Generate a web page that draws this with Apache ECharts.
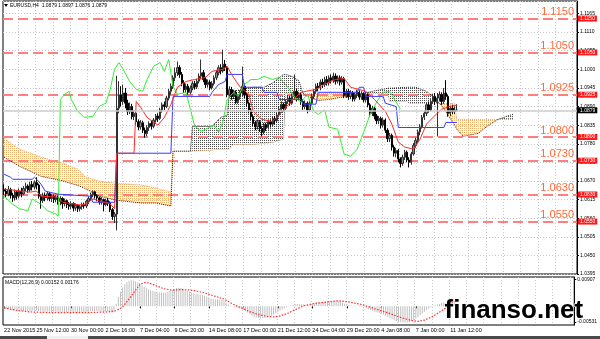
<!DOCTYPE html>
<html><head><meta charset="utf-8">
<script src="https://cdn.jsdelivr.net/npm/echarts@6/dist/echarts.min.js"></script>
<style>html,body{margin:0;padding:0;background:#fff}#c{width:600px;height:339px}</style>
</head><body><div id="c"></div>
<script>
const chartTitle = 'EURUSD,H4  1.0879 1.0897 1.0876 1.0879';
const macdTitle = 'MACD(12,26,9) 0.00152 0.00176';
const watermark = 'finanso.net';
const barCount = 265;
const timeLabelIdx = [0,15,31,47,63,79,95,111,127,143,159,175,191,207];
const timeLabels = ['22 Nov 2015','25 Nov 12:00','30 Nov 00:00','2 Dec 16:00','7 Dec 04:00','9 Dec 20:00','14 Dec 08:00','17 Dec 00:00','21 Dec 12:00','24 Dec 04:00','29 Dec 20:00','4 Jan 08:00','7 Jan 00:00','11 Jan 12:00'];
const levels = [1.1150,1.1050,1.0925,1.0800,1.0730,1.0630,1.0550];
const lastPrice = 1.0879;
const priceMin = 1.0395, priceMax = 1.1202, priceStep = 0.0055;
const macdMin = -0.00634, macdMax = 0.00998;
const macdLabels = [0.00907, 0, -0.00531];

// [open, close, low, high]
const candles = [
[1.0645,1.0640,1.0628,1.0660],[1.0640,1.0632,1.0622,1.0648],[1.0632,1.0645,1.0625,1.0655],[1.0645,1.0628,1.0618,1.0650],
[1.0628,1.0620,1.0608,1.0635],[1.0620,1.0638,1.0612,1.0645],[1.0638,1.0625,1.0615,1.0642],[1.0625,1.0640,1.0618,1.0648],
[1.0640,1.0632,1.0622,1.0650],[1.0632,1.0648,1.0628,1.0655],[1.0648,1.0655,1.0640,1.0665],[1.0655,1.0643,1.0635,1.0660],
[1.0643,1.0660,1.0638,1.0668],[1.0660,1.0652,1.0642,1.0670],[1.0652,1.0665,1.0645,1.0672],[1.0665,1.0658,1.0645,1.0681],
[1.0658,1.0625,1.0618,1.0662],[1.0625,1.0612,1.0588,1.0630],[1.0612,1.0628,1.0605,1.0635],[1.0628,1.0620,1.0610,1.0636],
[1.0620,1.0632,1.0612,1.0638],[1.0632,1.0618,1.0610,1.0637],[1.0618,1.0625,1.0608,1.0632],[1.0625,1.0615,1.0605,1.0630],
[1.0615,1.0622,1.0607,1.0628],[1.0622,1.0610,1.0600,1.0627],[1.0610,1.0618,1.0598,1.0625],[1.0618,1.0603,1.0588,1.0622],
[1.0603,1.0612,1.0595,1.0618],[1.0612,1.0600,1.0590,1.0615],[1.0600,1.0595,1.0585,1.0608],[1.0595,1.0603,1.0586,1.0610],
[1.0603,1.0590,1.0580,1.0607],[1.0590,1.0598,1.0582,1.0604],[1.0598,1.0588,1.0578,1.0602],[1.0588,1.0594,1.0580,1.0600],
[1.0594,1.0600,1.0585,1.0606],[1.0600,1.0596,1.0588,1.0606],[1.0596,1.0610,1.0590,1.0615],[1.0610,1.0618,1.0602,1.0624],
[1.0618,1.0630,1.0612,1.0636],[1.0630,1.0638,1.0622,1.0642],[1.0638,1.0626,1.0618,1.0641],[1.0626,1.0620,1.0610,1.0630],
[1.0620,1.0608,1.0600,1.0624],[1.0608,1.0615,1.0600,1.0622],[1.0615,1.0600,1.0580,1.0618],[1.0600,1.0612,1.0595,1.0618],
[1.0612,1.0605,1.0596,1.0620],[1.0605,1.0585,1.0578,1.0610],[1.0585,1.0565,1.0555,1.0590],[1.0565,1.0572,1.0546,1.0578],
[1.0572,1.0885,1.0524,1.0981],[1.0885,1.0925,1.0870,1.0965],[1.0925,1.0905,1.0890,1.0950],[1.0905,1.0930,1.0895,1.0955],
[1.0930,1.0900,1.0885,1.0945],[1.0900,1.0875,1.0865,1.0910],[1.0875,1.0890,1.0868,1.0902],[1.0890,1.0860,1.0852,1.0898],
[1.0860,1.0870,1.0850,1.0880],[1.0870,1.0845,1.0835,1.0878],[1.0845,1.0830,1.0820,1.0852],[1.0830,1.0842,1.0822,1.0850],
[1.0842,1.0820,1.0812,1.0848],[1.0820,1.0810,1.0798,1.0828],[1.0810,1.0828,1.0803,1.0835],[1.0828,1.0840,1.0818,1.0846],
[1.0840,1.0832,1.0822,1.0848],[1.0832,1.0850,1.0826,1.0856],[1.0850,1.0862,1.0842,1.0868],[1.0862,1.0855,1.0845,1.0870],
[1.0855,1.0880,1.0850,1.0886],[1.0880,1.0895,1.0872,1.0902],[1.0895,1.0890,1.0880,1.0905],[1.0890,1.0915,1.0885,1.0922],
[1.0915,1.0935,1.0908,1.0942],[1.0935,1.0950,1.0925,1.0958],[1.0950,1.0975,1.0942,1.0982],[1.0975,1.0990,1.0965,1.1005],
[1.0990,1.1005,1.0980,1.1023],[1.1005,1.0985,1.0975,1.1012],[1.0985,1.0960,1.0950,1.0992],[1.0960,1.0940,1.0930,1.0968],
[1.0940,1.0950,1.0930,1.0958],[1.0950,1.0932,1.0925,1.0957],[1.0932,1.0945,1.0926,1.0952],[1.0945,1.0958,1.0938,1.0965],
[1.0958,1.0948,1.0940,1.0966],[1.0948,1.0965,1.0942,1.0972],[1.0965,1.0980,1.0958,1.0988],[1.0980,1.0990,1.0970,1.1029],
[1.0990,1.0970,1.0962,1.0998],[1.0970,1.0955,1.0945,1.0978],[1.0955,1.0962,1.0946,1.0970],[1.0962,1.0945,1.0938,1.0968],
[1.0945,1.0958,1.0940,1.0965],[1.0958,1.0975,1.0952,1.0982],[1.0975,1.0990,1.0968,1.0998],[1.0990,1.1005,1.0982,1.1012],
[1.1005,1.0995,1.0985,1.1015],[1.0995,1.1015,1.0990,1.1058],[1.1015,1.1005,1.0995,1.1028],[1.1005,1.0925,1.0918,1.1010],
[1.0925,1.0940,1.0915,1.0950],[1.0940,1.0920,1.0910,1.0948],[1.0920,1.0932,1.0912,1.0940],[1.0932,1.0905,1.0898,1.0938],
[1.0905,1.0918,1.0898,1.0925],[1.0918,1.0930,1.0910,1.0938],[1.0930,1.0950,1.0920,1.1008],[1.0950,1.0925,1.0915,1.0958],
[1.0925,1.0900,1.0890,1.0932],[1.0900,1.0880,1.0870,1.0905],[1.0880,1.0860,1.0850,1.0886],[1.0860,1.0840,1.0832,1.0866],
[1.0840,1.0830,1.0820,1.0848],[1.0830,1.0845,1.0822,1.0852],[1.0845,1.0825,1.0815,1.0850],[1.0825,1.0815,1.0802,1.0832],
[1.0815,1.0835,1.0808,1.0842],[1.0835,1.0828,1.0818,1.0842],[1.0828,1.0845,1.0822,1.0852],[1.0845,1.0838,1.0828,1.0852],
[1.0838,1.0855,1.0832,1.0862],[1.0855,1.0848,1.0838,1.0862],[1.0848,1.0865,1.0842,1.0872],[1.0865,1.0882,1.0858,1.0890],
[1.0882,1.0895,1.0875,1.0905],[1.0895,1.0885,1.0875,1.0902],[1.0885,1.0905,1.0880,1.0912],[1.0905,1.0915,1.0898,1.0925],
[1.0915,1.0900,1.0892,1.0922],[1.0900,1.0920,1.0895,1.0928],[1.0920,1.0935,1.0912,1.0985],[1.0935,1.0915,1.0905,1.0942],
[1.0915,1.0925,1.0908,1.0932],[1.0925,1.0905,1.0895,1.0930],[1.0905,1.0890,1.0880,1.0912],[1.0890,1.0900,1.0882,1.0908],
[1.0900,1.0880,1.0870,1.0905],[1.0880,1.0900,1.0875,1.0908],[1.0900,1.0920,1.0895,1.0928],[1.0920,1.0935,1.0912,1.0942],
[1.0935,1.0950,1.0928,1.0958],[1.0950,1.0945,1.0935,1.0960],[1.0945,1.0962,1.0938,1.0970],[1.0962,1.0955,1.0945,1.0972],
[1.0955,1.0970,1.0948,1.0978],[1.0970,1.0960,1.0952,1.0980],[1.0960,1.0975,1.0952,1.0982],[1.0975,1.0968,1.0958,1.0985],
[1.0968,1.0980,1.0960,1.0990],[1.0980,1.0965,1.0955,1.0988],[1.0965,1.0975,1.0958,1.0982],[1.0975,1.0962,1.0952,1.0982],
[1.0962,1.0972,1.0955,1.0980],[1.0972,1.0922,1.0915,1.0978],[1.0922,1.0935,1.0915,1.0942],[1.0935,1.0920,1.0910,1.0942],
[1.0920,1.0930,1.0912,1.0938],[1.0930,1.0912,1.0905,1.0936],[1.0912,1.0925,1.0905,1.0932],[1.0925,1.0932,1.0915,1.0940],
[1.0932,1.0918,1.0910,1.0938],[1.0918,1.0928,1.0910,1.0935],[1.0928,1.0910,1.0902,1.0932],[1.0910,1.0925,1.0902,1.0932],
[1.0925,1.0895,1.0888,1.0930],[1.0895,1.0870,1.0860,1.0900],[1.0870,1.0885,1.0862,1.0892],[1.0885,1.0862,1.0852,1.0890],
[1.0862,1.0848,1.0838,1.0868],[1.0848,1.0855,1.0838,1.0862],[1.0855,1.0835,1.0825,1.0860],[1.0835,1.0850,1.0828,1.0858],
[1.0850,1.0820,1.0812,1.0855],[1.0820,1.0795,1.0785,1.0826],[1.0795,1.0805,1.0785,1.0812],[1.0805,1.0770,1.0760,1.0810],
[1.0770,1.0752,1.0742,1.0776],[1.0752,1.0760,1.0740,1.0768],[1.0760,1.0735,1.0725,1.0765],[1.0735,1.0722,1.0710,1.0740],
[1.0722,1.0740,1.0715,1.0748],[1.0740,1.0755,1.0732,1.0762],[1.0755,1.0732,1.0725,1.0760],[1.0732,1.0725,1.0710,1.0740],
[1.0725,1.0750,1.0718,1.0756],[1.0750,1.0775,1.0745,1.0782],[1.0775,1.0790,1.0768,1.0798],[1.0790,1.0815,1.0782,1.0822],
[1.0815,1.0830,1.0805,1.0838],[1.0830,1.0858,1.0825,1.0865],[1.0858,1.0870,1.0850,1.0878],[1.0870,1.0895,1.0862,1.0902],
[1.0895,1.0880,1.0872,1.0905],[1.0880,1.0905,1.0875,1.0912],[1.0905,1.0920,1.0898,1.0928],[1.0920,1.0905,1.0895,1.0930],
[1.0905,1.0915,1.0802,1.0930],[1.0915,1.0925,1.0905,1.0935],[1.0925,1.0905,1.0895,1.0932],[1.0905,1.0930,1.0898,1.0945],
[1.0930,1.0920,1.0910,1.0968],[1.0920,1.0870,1.0860,1.0925],[1.0870,1.0885,1.0862,1.0892],[1.0885,1.0875,1.0868,1.0895],
[1.0875,1.0879,1.0868,1.0890],[1.0879,1.0879,1.0876,1.0897]
];

// [barIndex, price]
const tenkan = [[0,1.0646],[12,1.0637],[15,1.0640],[17,1.0625],[25,1.0622],[27,1.0607],[35,1.0599],[38,1.0602],[41,1.0617],[44,1.0611],[49,1.0602],[51,1.0588],[52,1.0752],[60,1.0752],[61,1.0905],[63,1.0888],[66,1.0858],[71,1.0835],[74,1.0858],[77,1.0896],[80,1.0947],[84,1.0964],[88,1.0970],[93,1.0976],[96,1.0994],[101,1.1000],[103,1.1009],[105,1.0985],[109,1.0947],[113,1.0926],[115,1.0876],[119,1.0852],[124,1.0846],[127,1.0864],[132,1.0902],[137,1.0932],[144,1.0941],[148,1.0956],[153,1.0970],[157,1.0973],[160,1.0947],[167,1.0935],[171,1.0911],[176,1.0876],[179,1.0838],[182,1.0785],[185,1.0770],[189,1.0764],[192,1.0793],[195,1.0838],[199,1.0864],[202,1.0882],[206,1.0891],[209,1.0894]];
const kijun = [[0,1.0690],[3,1.0681],[4,1.0675],[13,1.0675],[14,1.0681],[15,1.0675],[17,1.0661],[19,1.0640],[25,1.0631],[40,1.0625],[41,1.0607],[51,1.0607],[52,1.0752],[77,1.0752],[78,1.0920],[95,1.0920],[96,1.0932],[99,1.0955],[102,1.0964],[103,1.0985],[110,1.0985],[111,1.0947],[119,1.0947],[120,1.0932],[126,1.0932],[127,1.0911],[137,1.0911],[138,1.0897],[144,1.0897],[145,1.0932],[163,1.0932],[164,1.0947],[166,1.0947],[167,1.0920],[175,1.0920],[176,1.0900],[181,1.0890],[182,1.0828],[203,1.0828],[204,1.0843],[209,1.0843]];
const chikou = [[0,1.0625],[4,1.0601],[7,1.0588],[11,1.0582],[13,1.0617],[17,1.0601],[20,1.0582],[24,1.0572],[25,1.0566],[26,1.0911],[28,1.0926],[30,1.0935],[31,1.0911],[34,1.0876],[37,1.0858],[41,1.0861],[44,1.0891],[47,1.0900],[49,1.0941],[51,1.1000],[53,1.1020],[55,1.1000],[58,1.0964],[61,1.0941],[64,1.0935],[66,1.0970],[69,1.1009],[72,1.1020],[74,1.0994],[76,1.1029],[78,1.0950],[80,1.0926],[84,1.0932],[86,1.0882],[88,1.0832],[91,1.0817],[95,1.0829],[97,1.0835],[99,1.0814],[101,1.0844],[103,1.0911],[106,1.0932],[108,1.0920],[111,1.0956],[114,1.0970],[117,1.0970],[120,1.0979],[124,1.0970],[127,1.0976],[131,1.0947],[134,1.0920],[137,1.0903],[140,1.0926],[143,1.0876],[145,1.0867],[148,1.0880],[150,1.0829],[154,1.0823],[157,1.0749],[160,1.0743],[163,1.0764],[166,1.0814],[169,1.0867],[172,1.0903],[175,1.0932],[178,1.0935],[181,1.0903],[183,1.0882]];

const cloudIdx = [0,7,17,26,34,38,44,52,63,70,77,78,86,87,96,100,103,104,106,110,115,120,124,127,129,130,133,136,138,140,145,150,155,160,165,166,170,175,177,178,186,187,190,195,199,201,203,206,208,209,212,219,223,228,232,235];
const spanA = [1.0740,1.0714,1.0684,1.0672,1.0657,1.0646,1.0625,1.0613,1.0605,1.0605,1.0596,1.0758,1.0758,1.0832,1.0832,1.0858,1.0864,1.0932,1.0935,1.0941,1.0947,1.0947,1.0960,1.0975,1.0985,1.0985,1.0979,1.0967,1.0929,1.0920,1.0908,1.0911,1.0917,1.0920,1.0926,1.0929,1.0935,1.0941,1.0944,1.0944,1.0947,1.0947,1.0947,1.0935,1.0914,1.0899,1.0885,1.0855,1.0835,1.0823,1.0802,1.0811,1.0832,1.0852,1.0861,1.0867];
const spanB = [1.0796,1.0764,1.0740,1.0725,1.0705,1.0681,1.0669,1.0663,1.0658,1.0649,1.0637,1.0758,1.0758,1.0758,1.0761,1.0764,1.0764,1.0764,1.0778,1.0778,1.0778,1.0781,1.0784,1.0790,1.0793,1.0929,1.0929,1.0929,1.0929,1.0929,1.0929,1.0929,1.0929,1.0929,1.0929,1.0929,1.0929,1.0929,1.0929,1.0905,1.0905,1.0899,1.0899,1.0899,1.0899,1.0899,1.0899,1.0899,1.0899,1.0852,1.0852,1.0852,1.0852,1.0852,1.0852,1.0852];

const macdHist = [
-0.0008,-0.0009,-0.0011,-0.0012,-0.0013,-0.0013,-0.0015,-0.0015,-0.0016,-0.0016,
-0.0017,-0.0016,-0.0016,-0.0015,-0.0015,-0.0014,-0.0016,-0.0017,-0.0017,-0.0018,
-0.0018,-0.0018,-0.0019,-0.0018,-0.0018,-0.0019,-0.0019,-0.0020,-0.0020,-0.0020,
-0.0021,-0.0021,-0.0022,-0.0022,-0.0022,-0.0022,-0.0021,-0.0021,-0.0020,-0.0019,
-0.0017,-0.0016,-0.0016,-0.0016,-0.0017,-0.0017,-0.0018,-0.0017,-0.0017,-0.0018,
-0.0020,-0.0021,0.0009,0.0032,0.0050,0.0064,0.0075,0.0082,0.0087,0.0089,
0.0088,0.0085,0.0081,0.0076,0.0071,0.0066,0.0062,0.0058,0.0055,0.0052,
0.0050,0.0048,0.0047,0.0047,0.0047,0.0048,0.0050,0.0053,0.0056,0.0059,
0.0062,0.0063,0.0062,0.0059,0.0056,0.0053,0.0050,0.0047,0.0045,0.0043,
0.0042,0.0041,0.0039,0.0036,0.0033,0.0030,0.0027,0.0025,0.0024,0.0023,
0.0022,0.0022,0.0020,0.0012,0.0007,0.0003,0.0000,-0.0003,-0.0006,-0.0008,
-0.0008,-0.0012,-0.0017,-0.0022,-0.0027,-0.0031,-0.0035,-0.0038,-0.0040,-0.0041,
-0.0041,-0.0040,-0.0038,-0.0035,-0.0032,-0.0028,-0.0024,-0.0020,-0.0015,-0.0011,
-0.0007,-0.0003,0.0000,0.0003,0.0005,0.0007,0.0008,0.0008,0.0007,0.0006,
0.0003,0.0004,0.0006,0.0008,0.0010,0.0012,0.0013,0.0014,0.0015,0.0016,
0.0017,0.0017,0.0018,0.0018,0.0018,0.0018,0.0018,0.0012,0.0009,0.0007,
0.0005,0.0003,0.0002,0.0001,0.0000,-0.0001,-0.0002,-0.0003,-0.0006,-0.0010,
-0.0012,-0.0015,-0.0018,-0.0020,-0.0023,-0.0025,-0.0028,-0.0032,-0.0035,-0.0040,
-0.0044,-0.0047,-0.0050,-0.0053,-0.0054,-0.0054,-0.0055,-0.0055,-0.0053,-0.0050,
-0.0046,-0.0041,-0.0036,-0.0030,-0.0024,-0.0018,-0.0013,-0.0008,-0.0003,0.0001,
0.0004,0.0006,0.0008,0.0011,0.0013,0.0013,0.0014,0.0014,0.0015,0.0015
];
const macdSignal = [[0,-0.0005],[6,-0.0014],[12,-0.0019],[20,-0.0021],[40,-0.0021],[48,-0.0019],[52,-0.0015],[55,-0.0002],[58,0.0025],[61,0.0055],[63,0.0074],[65,0.0081],[67,0.0080],[70,0.0072],[74,0.0060],[78,0.0055],[82,0.0057],[86,0.0056],[92,0.0048],[98,0.0034],[102,0.0025],[106,0.0008],[110,-0.0005],[114,-0.0018],[118,-0.0028],[122,-0.0034],[125,-0.0036],[128,-0.0033],[132,-0.0022],[136,-0.0008],[139,0.0002],[144,0.0010],[150,0.0015],[155,0.0019],[160,0.0015],[166,0.0006],[172,-0.0008],[178,-0.0022],[184,-0.0038],[189,-0.0048],[192,-0.0051],[195,-0.0047],[199,-0.0034],[203,-0.0015],[206,0.0001],[209,0.0018]];

// ---------- build ----------
const cats = [];
for (let i = 0; i < barCount; i++) cats.push(String(i));
const labelMap = {};
timeLabelIdx.forEach((ix, k) => { labelMap[ix] = timeLabels[k]; });
const isLabel = (idx) => labelMap[idx] !== undefined;
const isGrid = (idx) => idx % 8 === 7;

function dotPattern(color, w, h) {
  const c = document.createElement('canvas');
  c.width = w; c.height = h;
  const g = c.getContext('2d');
  g.fillStyle = color; g.fillRect(0, 0, 1, 1);
  return { image: c, repeat: 'repeat' };
}
const orangePat = dotPattern('#f0a050', 2, 2);
const blackPat = dotPattern('#202020', 2, 2);
const FONT = 'Arial, "Liberation Sans", sans-serif';
const gridLine = { show: true, lineStyle: { color: '#c8c8c8', type: [1, 2], width: 1 } };
const tagLabel = (bg) => ({ show: true, position: 'end', distance: 1, formatter: (p) => p.value.toFixed(4), color: '#fff',
  backgroundColor: bg, padding: [1, 2, 0, 2], fontSize: 5, fontFamily: FONT });

const chart = echarts.init(document.getElementById('c'), null, { renderer: 'canvas' });
chart.setOption({
  animation: false,
  backgroundColor: '#ffffff',
  textStyle: { fontFamily: FONT },
  grid: [
    { left: 3, top: 1, width: 574, height: 273, show: true, borderColor: '#000', borderWidth: 1, backgroundColor: 'transparent' },
    { left: 3, top: 277, width: 574, height: 48, show: true, borderColor: '#000', borderWidth: 1, backgroundColor: 'transparent' }
  ],
  xAxis: [
    { type: 'category', gridIndex: 0, data: cats, boundaryGap: true,
      axisLine: { show: false }, axisTick: { show: false }, axisLabel: { show: false },
      splitLine: Object.assign({ interval: (i) => isGrid(i) }, gridLine) },
    { type: 'category', gridIndex: 1, data: cats, boundaryGap: true,
      axisLine: { show: false },
      axisTick: { show: true, interval: (i) => isLabel(i), alignWithLabel: true, length: 2, lineStyle: { color: '#000' } },
      axisLabel: { show: true, interval: (i) => isLabel(i), formatter: (v, i) => labelMap[i] || '', align: 'left',
        fontSize: 5.5, color: '#000', margin: 2, fontFamily: FONT },
      splitLine: Object.assign({ interval: (i) => isGrid(i) }, gridLine) }
  ],
  yAxis: [
    { type: 'value', gridIndex: 0, position: 'right', min: priceMin, max: priceMax, interval: priceStep,
      axisLine: { show: true, lineStyle: { color: '#000' } }, axisTick: { show: true, length: 2, lineStyle: { color: '#000' } },
      axisLabel: { fontSize: 5, color: '#000', margin: 3, showMaxLabel: false, formatter: (v) => v.toFixed(4), fontFamily: FONT },
      splitLine: gridLine },
    { type: 'value', gridIndex: 1, position: 'right', min: macdMin, max: macdMax,
      axisLine: { show: true, lineStyle: { color: '#000' } },
      axisTick: { show: true, length: 2, customValues: macdLabels, lineStyle: { color: '#000' } },
      axisLabel: { fontSize: 5, color: '#000', margin: 3, customValues: macdLabels,
        formatter: (v) => (v === 0 ? '0' : v.toFixed(5)), fontFamily: FONT },
      splitLine: { show: false } }
  ],
  series: [
    { type: 'custom', name: 'kumo', xAxisIndex: 0, yAxisIndex: 0, z: 1, silent: true,
      data: cloudIdx.map((v, k) => [v, spanA[k], spanB[k]]),
      encode: { x: 0, y: [1, 2] },
      renderItem: function (params, api) {
        const k = params.dataIndex;
        if (k >= cloudIdx.length - 1) return null;
        const dA = spanA[k] + spanA[k + 1], dB = spanB[k] + spanB[k + 1];
        if (Math.abs(dA - dB) < 1e-7) return null;
        const a0 = api.coord([cloudIdx[k], spanA[k]]), a1 = api.coord([cloudIdx[k + 1], spanA[k + 1]]);
        const b0 = api.coord([cloudIdx[k], spanB[k]]), b1 = api.coord([cloudIdx[k + 1], spanB[k + 1]]);
        return { type: 'polygon', shape: { points: [a0, a1, b1, b0] },
          style: { fill: dB > dA ? orangePat : blackPat, stroke: null, opacity: dB > dA ? 0.85 : 0.8 } };
      }
    },
    { type: 'line', name: 'Senkou B', xAxisIndex: 0, yAxisIndex: 0, z: 2, showSymbol: false, silent: true,
      data: cloudIdx.map((v, k) => [v, spanB[k]]), lineStyle: { color: '#f0a050', width: 1, type: [1, 1] } },
    { type: 'line', name: 'Senkou A', xAxisIndex: 0, yAxisIndex: 0, z: 2, showSymbol: false, silent: true,
      data: cloudIdx.map((v, k) => [v, spanA[k]]), lineStyle: { color: '#202020', width: 1, type: [1, 1] } },
    { type: 'candlestick', name: 'EURUSD', xAxisIndex: 0, yAxisIndex: 0, z: 3, barWidth: 1.8, silent: true,
      data: candles,
      itemStyle: { color: '#8c8c8c', color0: '#000000', borderColor: '#303030', borderColor0: '#000000', borderWidth: 1 },
      markLine: { silent: true, symbol: 'none', precision: 4, z: 2,
        lineStyle: { color: '#ff7f7f', width: 1.8, type: [10, 5] },
        label: { show: true, position: 'insideEndTop', formatter: (p) => p.value.toFixed(4), color: '#ff6a3a',
          fontSize: 11, fontFamily: FONT, distance: [3, 1] },
        data: levels.map(v => ({ yAxis: v })) }
    },
    { type: 'line', name: 'bid', xAxisIndex: 0, yAxisIndex: 0, z: 2, data: [[0, lastPrice]], showSymbol: false, silent: true,
      lineStyle: { opacity: 0 },
      markLine: { silent: true, symbol: 'none', precision: 4,
        lineStyle: { color: '#cccccc', width: 1.5, type: 'solid' },
        label: tagLabel('#000000'),
        data: [{ yAxis: lastPrice }] } },
    { type: 'line', name: 'tags', xAxisIndex: 0, yAxisIndex: 0, z: 5, data: [[0, levels[0]]], showSymbol: false, silent: true,
      lineStyle: { opacity: 0 },
      markLine: { silent: true, symbol: 'none', precision: 4,
        lineStyle: { color: 'rgba(255,255,255,0)', width: 1, type: 'solid' },
        label: tagLabel('#ff1a1a'),
        data: levels.map(v => ({ yAxis: v })) } },
    { type: 'line', name: 'Chikou', xAxisIndex: 0, yAxisIndex: 0, z: 4, showSymbol: false, silent: true,
      data: chikou, lineStyle: { color: '#33ee33', width: 1 } },
    { type: 'line', name: 'Kijun', xAxisIndex: 0, yAxisIndex: 0, z: 4, showSymbol: false, silent: true,
      data: kijun, lineStyle: { color: '#3a3aff', width: 1 } },
    { type: 'line', name: 'Tenkan', xAxisIndex: 0, yAxisIndex: 0, z: 4, showSymbol: false, silent: true,
      data: tenkan, lineStyle: { color: '#ff2a2a', width: 1 } },
    { type: 'bar', name: 'MACD', xAxisIndex: 1, yAxisIndex: 1, barWidth: 1, silent: true,
      data: macdHist, itemStyle: { color: '#c0c0c0' } },
    { type: 'line', name: 'Signal', xAxisIndex: 1, yAxisIndex: 1, showSymbol: false, silent: true, z: 3,
      data: macdSignal, lineStyle: { color: '#ff3030', width: 1.2, type: [1.5, 1.5] } }
  ],
  graphic: [
    { type: 'polygon', shape: { points: [[4, 4], [8, 4], [6, 7]] }, style: { fill: '#000' }, z: 10 },
    { type: 'text', left: 10, top: 3, style: { text: chartTitle, fontSize: 5, fill: '#000', fontFamily: FONT }, z: 10 },
    { type: 'text', left: 5, top: 280, style: { text: macdTitle, fontSize: 5, fill: '#000', fontFamily: FONT }, z: 10 },
    { type: 'text', left: 444, top: 297, style: { text: watermark, fontSize: 26, fontWeight: 'bold', fill: '#000',
      stroke: '#fff', lineWidth: 1, fontFamily: FONT }, z: 20 },
    { type: 'rect', shape: { x: 0, y: 336, width: 600, height: 3 }, style: { fill: '#4a4a4a' }, z: 10 },
    { type: 'rect', shape: { x: 47, y: 336, width: 41, height: 3 }, style: { fill: '#f0f0f0' }, z: 11 }
  ]
});
</script></body></html>
